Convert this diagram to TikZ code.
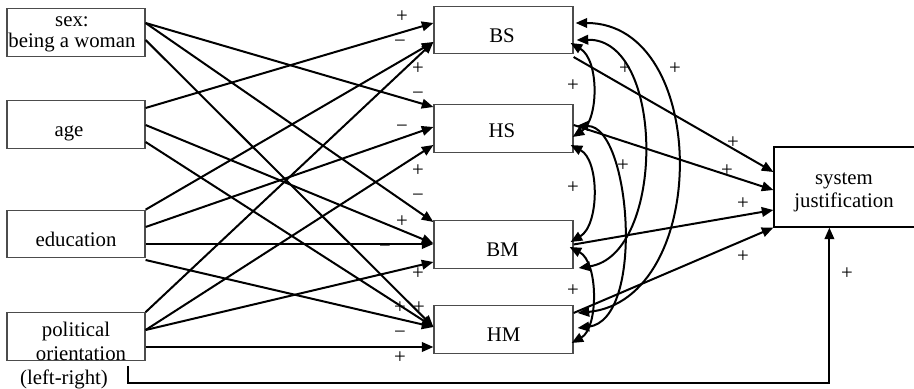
\documentclass[tikz,border=0pt]{standalone}
\usepackage{fontspec}
\setmainfont{Liberation Serif}
\usetikzlibrary{arrows.meta,calc}
\begin{document}
\begin{tikzpicture}[x=0.5pt,y=-0.5pt,
  box/.style={draw=black!70,line width=0.6pt,inner sep=0pt,minimum width=69pt,minimum height=23.75pt},
  txt/.style={font=\fontsize{10.4pt}{12pt}\selectfont,inner sep=0pt},
  lab/.style={font=\fontsize{10.4pt}{12pt}\selectfont,inner sep=0pt,anchor=base},
  arr/.style={line width=1pt,-{Triangle[length=5.8pt,width=4.8pt]}},
  dbl/.style={line width=1pt,{Triangle[length=5.8pt,width=4.8pt]}-{Triangle[length=5.8pt,width=4.8pt]}}]
\useasboundingbox (0,0) rectangle (914,389);
\clip (0,0) rectangle (914,389);
% boxes
\node[box] (sex) at (76,32.5) {};
\node[box] (age) at (76,124.5) {};
\node[box] (edu) at (76,234) {};
\node[box] (pol) at (76,336.5) {};
\node[box,minimum width=69.5pt] (BS) at (503.5,30) {};
\node[box,minimum width=69.5pt] (HS) at (503.5,128.5) {};
\node[box,minimum width=69.5pt] (BM) at (503.5,244.5) {};
\node[box,minimum width=69.5pt] (HM) at (503.5,329.5) {};
\node[box,draw=black,minimum width=78pt,minimum height=40pt] (SJ) at (852,187) {};
% texts (anchor=base is the baseline of the last line)
\node[txt,align=center,anchor=base] (tsex) at (72,48) {sex:\\[-1.5pt]being a woman};
\node[txt,anchor=base] (tage) at (69,137) {age};
\node[txt,anchor=base] (tedu) at (76,247) {education};
\node[txt,align=center,anchor=base] (tpol) at (76,384) {political\\\hspace*{5pt}orientation\\(left-right)\hspace*{12pt}};
\node[txt,anchor=base] (tBS) at (502,43) {BS};
\node[txt,anchor=base] (tHS) at (502,138) {HS};
\node[txt,anchor=base] (tBM) at (502.5,257) {BM};
\node[txt,anchor=base] (tHM) at (503.5,342) {HM};
\node[txt,align=center,anchor=base] (tSJ) at (844,208) {system\\[-0.5pt]justification};
% predictors -> ideologies
\draw[arr] ($(sex.east)+(0,-9.5)$) -- ($(HS.west)+(0,-21.5)$);
\draw[arr] ($(sex.east)+(0,-9.5)$) -- ($(BM.west)+(0,-22.5)$);
\draw[arr] ($(sex.east)+(0,7.5)$) -- ($(HM.west)+(0,-2.5)$);
\draw[arr] ($(age.east)+(0,-16.5)$) -- ($(BS.west)+(0,-7)$);
\draw[arr] ($(age.east)+(0,0.5)$) -- ($(BM.west)+(0,-1)$);
\draw[arr] ($(age.east)+(0,17.5)$) -- ($(HM.west)+(0,-2.5)$);
\draw[arr] (edu.north east) -- ($(BS.west)+(0,12)$);
\draw[arr] ($(edu.east)+(0,-7)$) -- ($(HS.west)+(0,-1.5)$);
\draw[arr] ($(edu.east)+(0,10)$) -- ($(BM.west)+(0,-0.5)$);
\draw[arr] ($(edu.east)+(0,26)$) -- ($(HM.west)+(0,-2.5)$);
\draw[arr] (pol.north east) -- ($(BS.west)+(0,12)$);
\draw[arr] ($(pol.east)+(0,-6.5)$) -- ($(HS.west)+(0,16.5)$);
\draw[arr] ($(pol.east)+(0,-6.5)$) -- ($(BM.west)+(0,17.5)$);
\draw[arr] ($(pol.east)+(0,10.5)$) -- ($(HM.west)+(0,17.5)$);
% ideologies -> system justification
\draw[arr] ($(BS.east)+(0,27)$) -- ($(SJ.west)+(0,-15)$);
\draw[arr] ($(HS.east)+(0,-3.5)$) -- ($(SJ.west)+(0,3)$);
\draw[arr] (BM.east) -- ($(SJ.west)+(0,23)$);
\draw[arr] ($(HM.east)+(0,-16.5)$) -- (SJ.south west);
% covariances
\draw[dbl] ($(BS.east)+(-3,13)$) .. controls +(29,17) and +(26,-17) .. ($(HS.east)+(-1,8.5)$);
\draw[dbl] ($(BS.east)+(3,10)$) .. controls +(89,-2) and +(87,-13) .. ($(BM.east)+(5,23.5)$);
\draw[dbl] ($(BS.east)+(2,-7)$) .. controls +(135,0) and +(133,-13) .. ($(HM.east)+(4,-16.5)$);
\draw[dbl] ($(HS.east)+(-3,16.5)$) .. controls +(29,15) and +(29,-17) .. ($(BM.east)+(-3,-2.5)$);
\draw[dbl] ($(HS.east)+(3,-2.5)$) .. controls +(54,0) and +(68,-8) .. ($(HM.east)+(4,-1.5)$);
\draw[dbl] ($(BM.east)+(-4,2.5)$) .. controls +(29,15) and +(27,-15) .. ($(HM.east)+(-2,13.5)$);
% political orientation -> system justification
\draw[arr] ($(pol.south)+(52,5)$) -- ++(0,17) -| ($(SJ.south west)+(56,0)$);
% labels
\node[lab] (l1) at (402,23) {+};
\node[lab] (l2) at (400,48) {−};
\node[lab] (l3) at (418,75) {+};
\node[lab] (l4) at (418,100) {−};
\node[lab] (l5) at (402,133) {−};
\node[lab] (l6) at (418,177) {+};
\node[lab] (l7) at (418,202) {−};
\node[lab] (l8) at (402,228) {+};
\node[lab] (l9) at (385,253) {−};
\node[lab] (l10) at (418,280) {+};
\node[lab] (l11) at (400,314) {+};
\node[lab] (l12) at (419,314) {+};
\node[lab] (l13) at (400,338) {−};
\node[lab] (l14) at (400,363) {+};
\node[lab] (r1) at (573,92) {+};
\node[lab] (r2) at (625,75) {+};
\node[lab] (r3) at (675,75) {+};
\node[lab] (r4) at (623,172) {+};
\node[lab] (r5) at (573,194) {+};
\node[lab] (r6) at (573,297) {+};
\node[lab] (r7) at (733,149) {+};
\node[lab] (r8) at (727,177) {+};
\node[lab] (r9) at (743,210) {+};
\node[lab] (r10) at (743,263) {+};
\node[lab] (r11) at (847,280) {+};
\end{tikzpicture}
\end{document}
